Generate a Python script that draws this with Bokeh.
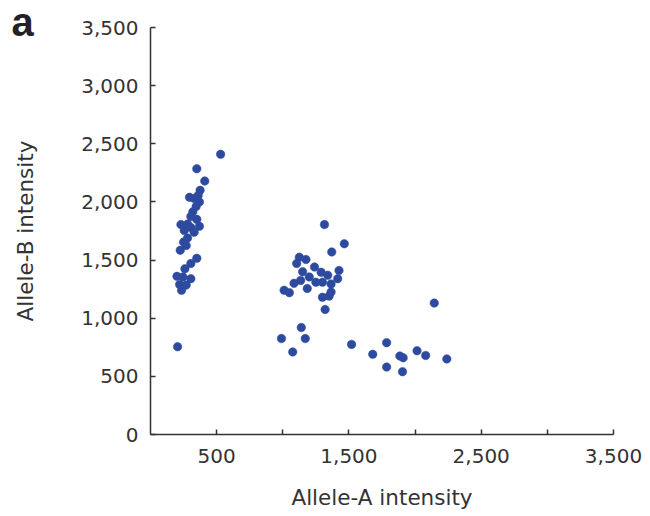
from bokeh.plotting import figure
from bokeh.models import Range1d, FixedTicker, NumeralTickFormatter, Label, ColumnDataSource
from bokeh.embed import file_html
from bokeh.resources import INLINE

# Allele intensities per sample (A on x, B on y)
allele_a = [
    530, 350, 410, 375, 360, 295, 330, 370, 345, 320, 305, 350, 230, 280, 370,
    305, 255, 330, 280, 250, 270, 225, 350, 305, 260, 200, 245, 305, 220, 270,
    235, 205,
    1315, 1465, 1370, 1125, 1175, 1105, 1240, 1150, 1290, 1425, 1200, 1340, 1415,
    1135, 1085, 1250, 1300, 1365, 1185, 1010, 1050, 1365, 1300, 1350, 1320, 1140,
    990, 1170, 1075,
    1520, 2145, 1785, 1680, 1885, 1910, 2015, 2080, 2240, 1785, 1905,
]
allele_b = [
    2410, 2285, 2180, 2100, 2055, 2040, 2030, 2000, 1960, 1915, 1875, 1850, 1805, 1810, 1790,
    1780, 1755, 1740, 1690, 1655, 1625, 1585, 1515, 1470, 1425, 1360, 1355, 1340, 1290, 1285,
    1240, 755,
    1805, 1640, 1570, 1525, 1505, 1470, 1440, 1400, 1395, 1410, 1355, 1370, 1340,
    1325, 1300, 1310, 1310, 1295, 1255, 1240, 1220, 1225, 1180, 1190, 1075, 920,
    825, 825, 710,
    775, 1130, 790, 690, 675, 660, 720, 680, 650, 580, 540,
]

x_ticks = [500, 1000, 1500, 2000, 2500, 3000, 3500]
x_unlabelled = [1000, 2000, 3000]
y_ticks = [0, 500, 1000, 1500, 2000, 2500, 3000, 3500]

TEXT = "#333333"
FONT = "DejaVu Sans"

p = figure(
    width=650, height=516,
    x_range=Range1d(0, 3500), y_range=Range1d(0, 3500),
    output_backend="svg", toolbar_location=None,
    min_border_left=150, min_border_right=37,
    min_border_top=27, min_border_bottom=82,
)
p.outline_line_color = None
p.xgrid.visible = False
p.ygrid.visible = False

src = ColumnDataSource(dict(a=allele_a, b=allele_b))
p.scatter("a", "b", source=src, size=8.5, fill_color="#2d4a9e",
          line_color="#2d4a9e", line_width=0.5)

for ax in (p.xaxis[0], p.yaxis[0]):
    ax.formatter = NumeralTickFormatter(format="0,0")
    ax.axis_line_color = TEXT
    ax.axis_line_width = 1.5
    ax.major_tick_line_color = TEXT
    ax.major_tick_line_width = 1.5
    ax.major_tick_in = 5
    ax.major_tick_out = 0
    ax.minor_tick_line_color = None
    ax.major_label_text_font = FONT
    ax.major_label_text_font_size = "20px"
    ax.major_label_text_color = TEXT
    ax.axis_label_text_font = FONT
    ax.axis_label_text_font_size = "21.5px"
    ax.axis_label_text_font_style = "normal"
    ax.axis_label_text_color = TEXT

p.xaxis.ticker = FixedTicker(ticks=x_ticks)
p.xaxis.major_label_overrides = {t: "" for t in x_unlabelled}
p.yaxis.ticker = FixedTicker(ticks=y_ticks)

p.xaxis.axis_label = "Allele-A intensity"
p.yaxis.axis_label = "Allele-B intensity"
p.xaxis.major_label_standoff = 14
p.yaxis.major_label_standoff = 12
p.xaxis.axis_label_standoff = 19
p.yaxis.axis_label_standoff = 40

# panel letter in the top-left corner; held in the (otherwise empty) right
# panel so it is not clipped to the plotting frame
p.add_layout(Label(x=-1050, y=3550, text="a",
                   text_font="Liberation Sans", text_font_style="bold",
                   text_font_size="40px", text_color="#222222",
                   text_baseline="alphabetic"), "right")

open("out.html", "w").write(file_html(p, INLINE))
